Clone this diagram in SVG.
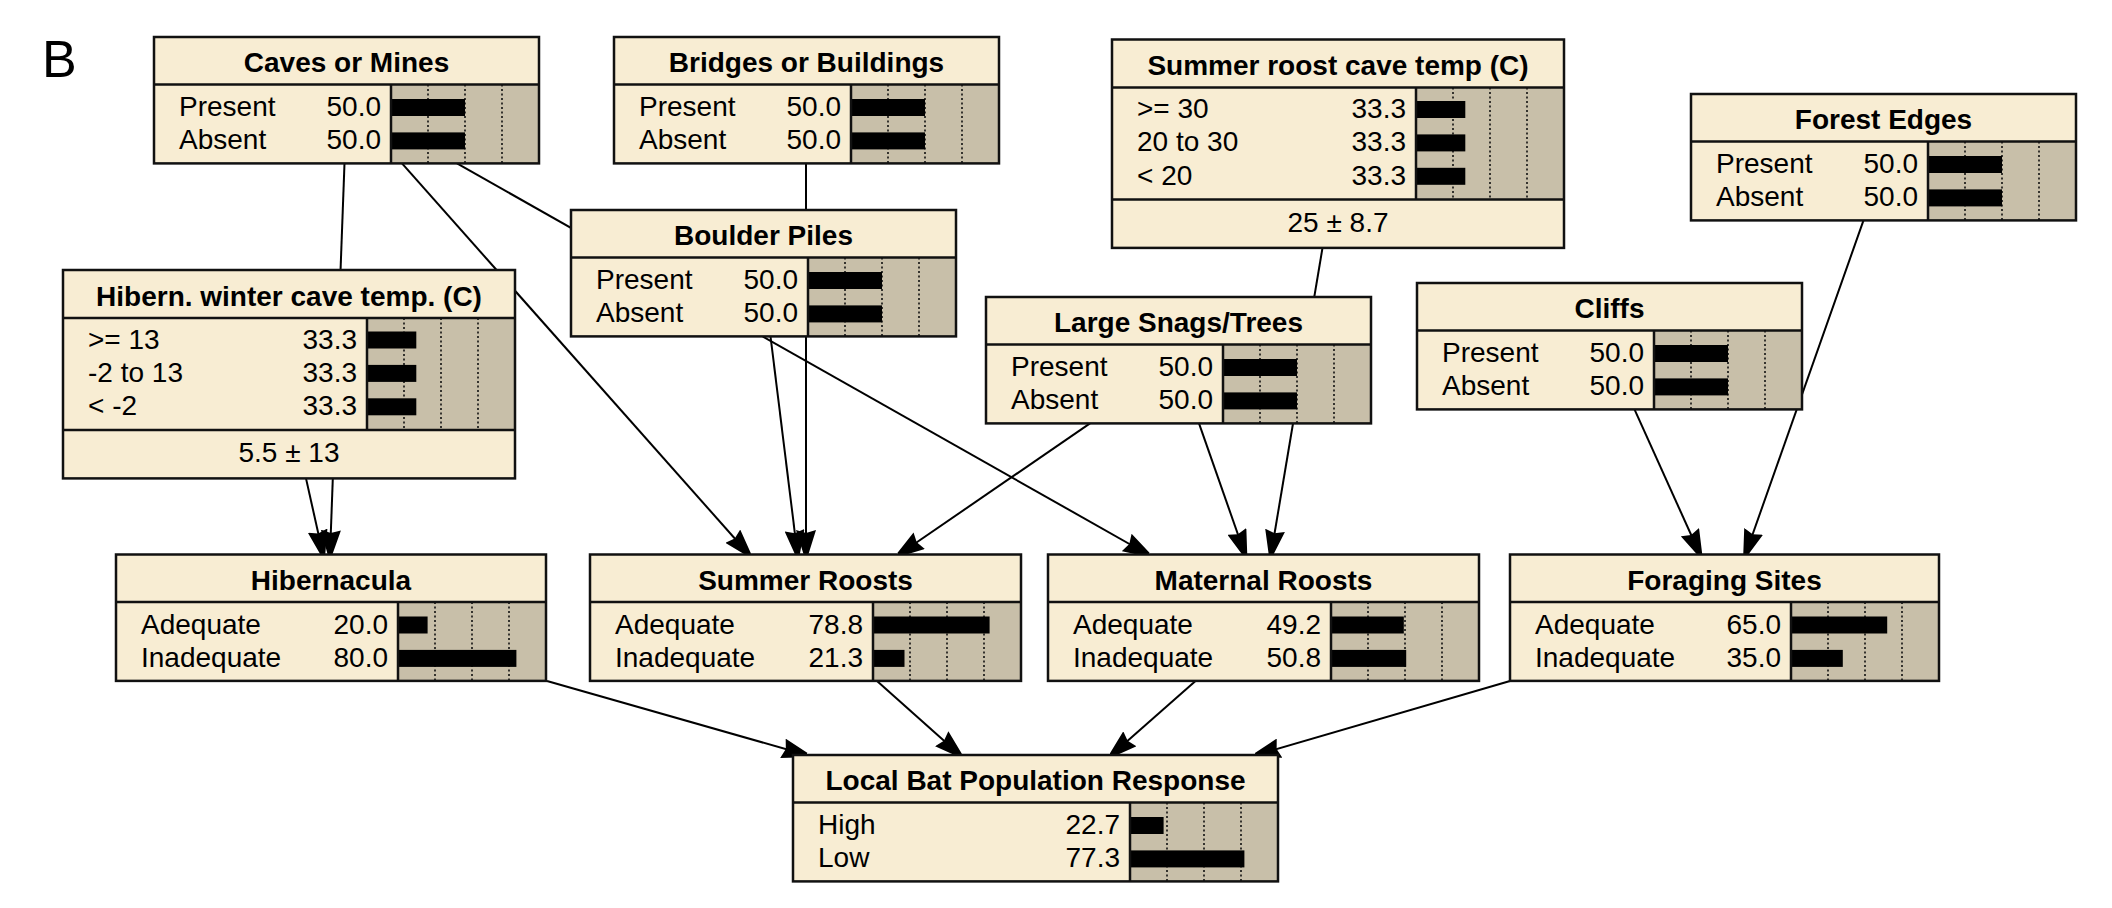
<svg xmlns="http://www.w3.org/2000/svg" width="2112" height="908" viewBox="0 0 2112 908">
<defs>
<style>
.bg{fill:#ffffff}
.box{fill:#F8EDD3}
.ba{fill:#C8BFA9}
.ol{fill:none;stroke:#111;stroke-width:2.5}
.sep{stroke:#111;stroke-width:2.5}
.grid{stroke:#111;stroke-width:1.6;stroke-dasharray:2 2.5}
.bar{fill:#000}
.t{font-family:"Liberation Sans",Arial,sans-serif;font-size:28px;fill:#000}
.ti{font-weight:bold;text-anchor:middle}
.v{text-anchor:end}
.m{text-anchor:middle}
.link{stroke:#000;stroke-width:2;fill:none;marker-end:url(#ah)}
</style>
<marker id="ah" viewBox="0 0 25 20" refX="24.5" refY="10" markerWidth="25" markerHeight="20" orient="auto" markerUnits="userSpaceOnUse">
<path d="M0,0 L25,7.8 L25,12.2 L0,20 L3,10 Z" fill="#000"/>
</marker>
</defs>
<rect class="bg" x="0" y="0" width="2112" height="908"/>
<text class="t" x="42" y="77" style="font-size:52px">B</text>

<g id="connectors">
<line class="link" x1="344.5" y1="163.4" x2="330" y2="554.5"/>
<line class="link" x1="306" y1="478.4" x2="323" y2="554.5"/>
<line class="link" x1="402" y1="163.4" x2="749" y2="554.5"/>
<line class="link" x1="457" y1="163.4" x2="1148" y2="554.5"/>
<line class="link" x1="806" y1="163.4" x2="806" y2="554.5"/>
<line class="link" x1="770.5" y1="336.4" x2="797.5" y2="554.5"/>
<line class="link" x1="1090" y1="423.4" x2="899" y2="554.5"/>
<line class="link" x1="1199" y1="423.4" x2="1245" y2="554.5"/>
<line class="link" x1="1322.5" y1="247.9" x2="1271" y2="554.5"/>
<line class="link" x1="1634.5" y1="409.4" x2="1700" y2="554.5"/>
<line class="link" x1="1863.5" y1="220.4" x2="1745.5" y2="554.5"/>
<line class="link" x1="547" y1="681" x2="806.5" y2="755"/>
<line class="link" x1="877" y1="681" x2="960" y2="755"/>
<line class="link" x1="1195.5" y1="681" x2="1111.5" y2="755"/>
<line class="link" x1="1510" y1="681" x2="1256" y2="755"/>
</g>

<g id="caves">
<rect class="box" x="154" y="37" width="385" height="126.4"/>
<rect class="ba" x="391" y="84.5" width="148" height="78.9"/>
<line class="grid" x1="428" y1="84.5" x2="428" y2="163.4"/><line class="grid" x1="465" y1="84.5" x2="465" y2="163.4"/><line class="grid" x1="502" y1="84.5" x2="502" y2="163.4"/>
<rect class="bar" x="391" y="99" width="74" height="17"/><rect class="bar" x="391" y="132.4" width="74" height="17"/>
<line class="sep" x1="154" y1="84.5" x2="539" y2="84.5"/><line class="sep" x1="391" y1="84.5" x2="391" y2="163.4"/>
<rect class="ol" x="154" y="37" width="385" height="126.4"/>
<text class="t ti" x="346.5" y="72">Caves or Mines</text>
<text class="t" x="179" y="116">Present</text><text class="t v" x="381" y="116">50.0</text>
<text class="t" x="179" y="149.4">Absent</text><text class="t v" x="381" y="149.4">50.0</text>
</g>

<g id="bridges">
<rect class="box" x="614" y="37" width="385" height="126.4"/>
<rect class="ba" x="851" y="84.5" width="148" height="78.9"/>
<line class="grid" x1="888" y1="84.5" x2="888" y2="163.4"/><line class="grid" x1="925" y1="84.5" x2="925" y2="163.4"/><line class="grid" x1="962" y1="84.5" x2="962" y2="163.4"/>
<rect class="bar" x="851" y="99" width="74" height="17"/><rect class="bar" x="851" y="132.4" width="74" height="17"/>
<line class="sep" x1="614" y1="84.5" x2="999" y2="84.5"/><line class="sep" x1="851" y1="84.5" x2="851" y2="163.4"/>
<rect class="ol" x="614" y="37" width="385" height="126.4"/>
<text class="t ti" x="806.5" y="72">Bridges or Buildings</text>
<text class="t" x="639" y="116">Present</text><text class="t v" x="841" y="116">50.0</text>
<text class="t" x="639" y="149.4">Absent</text><text class="t v" x="841" y="149.4">50.0</text>
</g>

<g id="boulder">
<rect class="box" x="571" y="210" width="385" height="126.4"/>
<rect class="ba" x="808" y="257.5" width="148" height="78.9"/>
<line class="grid" x1="845" y1="257.5" x2="845" y2="336.4"/><line class="grid" x1="882" y1="257.5" x2="882" y2="336.4"/><line class="grid" x1="919" y1="257.5" x2="919" y2="336.4"/>
<rect class="bar" x="808" y="272" width="74" height="17"/><rect class="bar" x="808" y="305.4" width="74" height="17"/>
<line class="sep" x1="571" y1="257.5" x2="956" y2="257.5"/><line class="sep" x1="808" y1="257.5" x2="808" y2="336.4"/>
<rect class="ol" x="571" y="210" width="385" height="126.4"/>
<text class="t ti" x="763.5" y="245">Boulder Piles</text>
<text class="t" x="596" y="289">Present</text><text class="t v" x="798" y="289">50.0</text>
<text class="t" x="596" y="322.4">Absent</text><text class="t v" x="798" y="322.4">50.0</text>
</g>

<g id="snags">
<rect class="box" x="986" y="297" width="385" height="126.4"/>
<rect class="ba" x="1223" y="344.5" width="148" height="78.9"/>
<line class="grid" x1="1260" y1="344.5" x2="1260" y2="423.4"/><line class="grid" x1="1297" y1="344.5" x2="1297" y2="423.4"/><line class="grid" x1="1334" y1="344.5" x2="1334" y2="423.4"/>
<rect class="bar" x="1223" y="359" width="74" height="17"/><rect class="bar" x="1223" y="392.4" width="74" height="17"/>
<line class="sep" x1="986" y1="344.5" x2="1371" y2="344.5"/><line class="sep" x1="1223" y1="344.5" x2="1223" y2="423.4"/>
<rect class="ol" x="986" y="297" width="385" height="126.4"/>
<text class="t ti" x="1178.5" y="332">Large Snags/Trees</text>
<text class="t" x="1011" y="376">Present</text><text class="t v" x="1213" y="376">50.0</text>
<text class="t" x="1011" y="409.4">Absent</text><text class="t v" x="1213" y="409.4">50.0</text>
</g>

<g id="cliffs">
<rect class="box" x="1417" y="283" width="385" height="126.4"/>
<rect class="ba" x="1654" y="330.5" width="148" height="78.9"/>
<line class="grid" x1="1691" y1="330.5" x2="1691" y2="409.4"/><line class="grid" x1="1728" y1="330.5" x2="1728" y2="409.4"/><line class="grid" x1="1765" y1="330.5" x2="1765" y2="409.4"/>
<rect class="bar" x="1654" y="345" width="74" height="17"/><rect class="bar" x="1654" y="378.4" width="74" height="17"/>
<line class="sep" x1="1417" y1="330.5" x2="1802" y2="330.5"/><line class="sep" x1="1654" y1="330.5" x2="1654" y2="409.4"/>
<rect class="ol" x="1417" y="283" width="385" height="126.4"/>
<text class="t ti" x="1609.5" y="318">Cliffs</text>
<text class="t" x="1442" y="362">Present</text><text class="t v" x="1644" y="362">50.0</text>
<text class="t" x="1442" y="395.4">Absent</text><text class="t v" x="1644" y="395.4">50.0</text>
</g>

<g id="forest">
<rect class="box" x="1691" y="94" width="385" height="126.4"/>
<rect class="ba" x="1928" y="141.5" width="148" height="78.9"/>
<line class="grid" x1="1965" y1="141.5" x2="1965" y2="220.4"/><line class="grid" x1="2002" y1="141.5" x2="2002" y2="220.4"/><line class="grid" x1="2039" y1="141.5" x2="2039" y2="220.4"/>
<rect class="bar" x="1928" y="156" width="74" height="17"/><rect class="bar" x="1928" y="189.4" width="74" height="17"/>
<line class="sep" x1="1691" y1="141.5" x2="2076" y2="141.5"/><line class="sep" x1="1928" y1="141.5" x2="1928" y2="220.4"/>
<rect class="ol" x="1691" y="94" width="385" height="126.4"/>
<text class="t ti" x="1883.5" y="129">Forest Edges</text>
<text class="t" x="1716" y="173">Present</text><text class="t v" x="1918" y="173">50.0</text>
<text class="t" x="1716" y="206.4">Absent</text><text class="t v" x="1918" y="206.4">50.0</text>
</g>

<g id="summertemp">
<rect class="box" x="1112" y="39.5" width="452" height="208.4"/>
<rect class="ba" x="1416" y="87.5" width="148" height="112"/>
<line class="grid" x1="1453" y1="87.5" x2="1453" y2="199.5"/><line class="grid" x1="1490" y1="87.5" x2="1490" y2="199.5"/><line class="grid" x1="1527" y1="87.5" x2="1527" y2="199.5"/>
<rect class="bar" x="1416" y="101" width="49.3" height="17"/><rect class="bar" x="1416" y="134.4" width="49.3" height="17"/><rect class="bar" x="1416" y="167.8" width="49.3" height="17"/>
<line class="sep" x1="1112" y1="87.5" x2="1564" y2="87.5"/><line class="sep" x1="1416" y1="87.5" x2="1416" y2="199.5"/><line class="sep" x1="1112" y1="199.5" x2="1564" y2="199.5"/>
<rect class="ol" x="1112" y="39.5" width="452" height="208.4"/>
<text class="t ti" x="1338" y="75">Summer roost cave temp (C)</text>
<text class="t" x="1137" y="118">&gt;= 30</text><text class="t v" x="1406" y="118">33.3</text>
<text class="t" x="1137" y="151.4">20 to 30</text><text class="t v" x="1406" y="151.4">33.3</text>
<text class="t" x="1137" y="184.8">&lt; 20</text><text class="t v" x="1406" y="184.8">33.3</text>
<text class="t m" x="1338" y="232">25 ± 8.7</text>
</g>

<g id="hiberntemp">
<rect class="box" x="63" y="270" width="452" height="208.4"/>
<rect class="ba" x="367" y="318" width="148" height="112"/>
<line class="grid" x1="404" y1="318" x2="404" y2="430"/><line class="grid" x1="441" y1="318" x2="441" y2="430"/><line class="grid" x1="478" y1="318" x2="478" y2="430"/>
<rect class="bar" x="367" y="331.5" width="49.3" height="17"/><rect class="bar" x="367" y="364.9" width="49.3" height="17"/><rect class="bar" x="367" y="398.3" width="49.3" height="17"/>
<line class="sep" x1="63" y1="318" x2="515" y2="318"/><line class="sep" x1="367" y1="318" x2="367" y2="430"/><line class="sep" x1="63" y1="430" x2="515" y2="430"/>
<rect class="ol" x="63" y="270" width="452" height="208.4"/>
<text class="t ti" x="289" y="306">Hibern. winter cave temp. (C)</text>
<text class="t" x="88" y="348.5">&gt;= 13</text><text class="t v" x="357" y="348.5">33.3</text>
<text class="t" x="88" y="381.9">-2 to 13</text><text class="t v" x="357" y="381.9">33.3</text>
<text class="t" x="88" y="415.3">&lt; -2</text><text class="t v" x="357" y="415.3">33.3</text>
<text class="t m" x="289" y="462">5.5 ± 13</text>
</g>

<g id="hibernacula">
<rect class="box" x="116" y="554.5" width="430" height="126.4"/>
<rect class="ba" x="398" y="602" width="148" height="78.9"/>
<line class="grid" x1="435" y1="602" x2="435" y2="680.9"/><line class="grid" x1="472" y1="602" x2="472" y2="680.9"/><line class="grid" x1="509" y1="602" x2="509" y2="680.9"/>
<rect class="bar" x="398" y="616.5" width="29.6" height="17"/><rect class="bar" x="398" y="649.9" width="118.4" height="17"/>
<line class="sep" x1="116" y1="602" x2="546" y2="602"/><line class="sep" x1="398" y1="602" x2="398" y2="680.9"/>
<rect class="ol" x="116" y="554.5" width="430" height="126.4"/>
<text class="t ti" x="331" y="589.5">Hibernacula</text>
<text class="t" x="141" y="633.5">Adequate</text><text class="t v" x="388" y="633.5">20.0</text>
<text class="t" x="141" y="666.9">Inadequate</text><text class="t v" x="388" y="666.9">80.0</text>
</g>

<g id="summerroosts">
<rect class="box" x="590" y="554.5" width="431" height="126.4"/>
<rect class="ba" x="873" y="602" width="148" height="78.9"/>
<line class="grid" x1="910" y1="602" x2="910" y2="680.9"/><line class="grid" x1="947" y1="602" x2="947" y2="680.9"/><line class="grid" x1="984" y1="602" x2="984" y2="680.9"/>
<rect class="bar" x="873" y="616.5" width="116.6" height="17"/><rect class="bar" x="873" y="649.9" width="31.5" height="17"/>
<line class="sep" x1="590" y1="602" x2="1021" y2="602"/><line class="sep" x1="873" y1="602" x2="873" y2="680.9"/>
<rect class="ol" x="590" y="554.5" width="431" height="126.4"/>
<text class="t ti" x="805.5" y="589.5">Summer Roosts</text>
<text class="t" x="615" y="633.5">Adequate</text><text class="t v" x="863" y="633.5">78.8</text>
<text class="t" x="615" y="666.9">Inadequate</text><text class="t v" x="863" y="666.9">21.3</text>
</g>

<g id="maternal">
<rect class="box" x="1048" y="554.5" width="431" height="126.4"/>
<rect class="ba" x="1331" y="602" width="148" height="78.9"/>
<line class="grid" x1="1368" y1="602" x2="1368" y2="680.9"/><line class="grid" x1="1405" y1="602" x2="1405" y2="680.9"/><line class="grid" x1="1442" y1="602" x2="1442" y2="680.9"/>
<rect class="bar" x="1331" y="616.5" width="72.8" height="17"/><rect class="bar" x="1331" y="649.9" width="75.2" height="17"/>
<line class="sep" x1="1048" y1="602" x2="1479" y2="602"/><line class="sep" x1="1331" y1="602" x2="1331" y2="680.9"/>
<rect class="ol" x="1048" y="554.5" width="431" height="126.4"/>
<text class="t ti" x="1263.5" y="589.5">Maternal Roosts</text>
<text class="t" x="1073" y="633.5">Adequate</text><text class="t v" x="1321" y="633.5">49.2</text>
<text class="t" x="1073" y="666.9">Inadequate</text><text class="t v" x="1321" y="666.9">50.8</text>
</g>

<g id="foraging">
<rect class="box" x="1510" y="554.5" width="429" height="126.4"/>
<rect class="ba" x="1791" y="602" width="148" height="78.9"/>
<line class="grid" x1="1828" y1="602" x2="1828" y2="680.9"/><line class="grid" x1="1865" y1="602" x2="1865" y2="680.9"/><line class="grid" x1="1902" y1="602" x2="1902" y2="680.9"/>
<rect class="bar" x="1791" y="616.5" width="96.2" height="17"/><rect class="bar" x="1791" y="649.9" width="51.8" height="17"/>
<line class="sep" x1="1510" y1="602" x2="1939" y2="602"/><line class="sep" x1="1791" y1="602" x2="1791" y2="680.9"/>
<rect class="ol" x="1510" y="554.5" width="429" height="126.4"/>
<text class="t ti" x="1724.5" y="589.5">Foraging Sites</text>
<text class="t" x="1535" y="633.5">Adequate</text><text class="t v" x="1781" y="633.5">65.0</text>
<text class="t" x="1535" y="666.9">Inadequate</text><text class="t v" x="1781" y="666.9">35.0</text>
</g>

<g id="response">
<rect class="box" x="793" y="755" width="485" height="126.4"/>
<rect class="ba" x="1130" y="802.5" width="148" height="78.9"/>
<line class="grid" x1="1167" y1="802.5" x2="1167" y2="881.4"/><line class="grid" x1="1204" y1="802.5" x2="1204" y2="881.4"/><line class="grid" x1="1241" y1="802.5" x2="1241" y2="881.4"/>
<rect class="bar" x="1130" y="817" width="33.6" height="17"/><rect class="bar" x="1130" y="850.4" width="114.4" height="17"/>
<line class="sep" x1="793" y1="802.5" x2="1278" y2="802.5"/><line class="sep" x1="1130" y1="802.5" x2="1130" y2="881.4"/>
<rect class="ol" x="793" y="755" width="485" height="126.4"/>
<text class="t ti" x="1035.5" y="790">Local Bat Population Response</text>
<text class="t" x="818" y="834">High</text><text class="t v" x="1120" y="834">22.7</text>
<text class="t" x="818" y="867.4">Low</text><text class="t v" x="1120" y="867.4">77.3</text>
</g>
</svg>
